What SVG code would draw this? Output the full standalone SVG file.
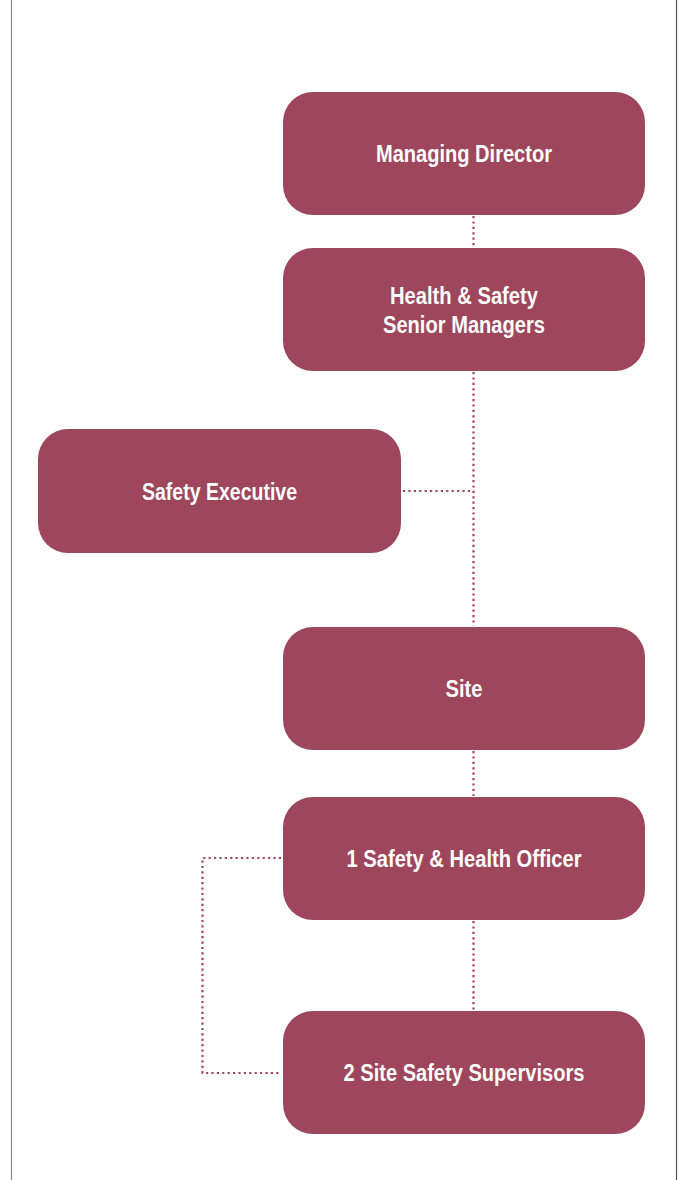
<svg xmlns="http://www.w3.org/2000/svg" width="681" height="1180" viewBox="0 0 681 1180">
<style>
.box{fill:#9e465b}
.lbl{font-family:"Liberation Sans",Arial,sans-serif;font-weight:bold;font-size:23.5px;fill:#ffffff;text-anchor:middle}
.dot{fill:none;stroke:#9e465b;stroke-width:2.2;stroke-dasharray:2.2 3.2}
</style>
<rect width="681" height="1180" fill="#ffffff"/>
<line x1="11.5" y1="0" x2="11.5" y2="1180" stroke="#888888" stroke-width="1.2"/>
<line x1="676.5" y1="0" x2="676.5" y2="1180" stroke="#555555" stroke-width="1.2"/>
<g id="connectors">
<line class="dot" x1="473.5" y1="216" x2="473.5" y2="247"/>
<line class="dot" x1="473.5" y1="372" x2="473.5" y2="626"/>
<line class="dot" x1="403" y1="491" x2="473.5" y2="491"/>
<line class="dot" x1="473.5" y1="751" x2="473.5" y2="796"/>
<line class="dot" x1="473.5" y1="921" x2="473.5" y2="1010"/>
<polyline class="dot" points="281,858 202.5,858 202.5,1073 281,1073"/>
</g>
<g id="managing-director">
<rect class="box" x="283" y="92" width="362" height="123" rx="30"/>
<text class="lbl" x="464" y="162" textLength="176" lengthAdjust="spacingAndGlyphs">Managing Director</text>
</g>
<g id="hs-senior-managers">
<rect class="box" x="283" y="248" width="362" height="123" rx="30"/>
<text class="lbl" x="464" y="304" textLength="148" lengthAdjust="spacingAndGlyphs">Health &amp; Safety</text>
<text class="lbl" x="464" y="333" textLength="162" lengthAdjust="spacingAndGlyphs">Senior Managers</text>
</g>
<g id="safety-executive">
<rect class="box" x="38" y="429" width="363" height="124" rx="30"/>
<text class="lbl" x="219.5" y="500" textLength="155" lengthAdjust="spacingAndGlyphs">Safety Executive</text>
</g>
<g id="site">
<rect class="box" x="283" y="627" width="362" height="123" rx="30"/>
<text class="lbl" x="464" y="697" textLength="37" lengthAdjust="spacingAndGlyphs">Site</text>
</g>
<g id="safety-health-officer">
<rect class="box" x="283" y="797" width="362" height="123" rx="30"/>
<text class="lbl" x="464" y="867" textLength="235" lengthAdjust="spacingAndGlyphs">1 Safety &amp; Health Officer</text>
</g>
<g id="site-safety-supervisors">
<rect class="box" x="283" y="1011" width="362" height="123" rx="30"/>
<text class="lbl" x="464" y="1081" textLength="241" lengthAdjust="spacingAndGlyphs">2 Site Safety Supervisors</text>
</g>
</svg>
